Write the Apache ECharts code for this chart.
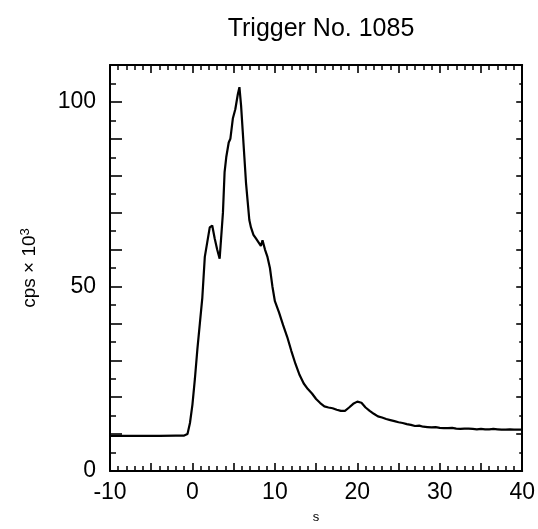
<!DOCTYPE html>
<html>
<head>
<meta charset="utf-8">
<script src="https://cdn.jsdelivr.net/npm/echarts@6/dist/echarts.min.js"></script>
<style>html,body{margin:0;padding:0;background:#fff;}#c{width:538px;height:529px;}</style>
</head>
<body>
<div id="c"></div>
<script>
const titleText = 'Trigger No. 1085';
const xName = 's';
const yName = 'cps × 10';
const yLabels = [0, 50, 100];
const xLabels = [-10, 0, 10, 20, 30, 40];
const times = [-10,-8,-6,-4,-2,-1,-0.6,-0.3,0,0.3,0.6,0.9,1.2,1.5,1.8,2.1,2.4,2.7,3.0,3.3,3.5,3.7,3.9,4.1,4.4,4.6,4.9,5.2,5.5,5.7,5.9,6.1,6.3,6.5,6.7,6.9,7.1,7.4,7.7,8.0,8.3,8.5,8.8,9.1,9.4,9.7,10.0,10.5,11,11.5,12,12.5,13,13.5,14,14.5,15,15.5,16,16.5,17,17.5,18,18.5,19,19.5,20,20.5,21,21.5,22,22.5,23,23.5,24,24.5,25,25.5,26,26.5,27,27.5,28,28.5,29,29.5,30,30.5,31,31.5,32,32.5,33,33.5,34,34.5,35,35.5,36,36.5,37,37.5,38,38.5,39,39.5,40];
const counts = [9.5,9.5,9.5,9.5,9.6,9.6,10,13,18,25,33,40,47,58,62,66,66.5,63,60,57.5,57,70,81,85,89,90,95.5,98,102,104,99,92,85,78,73,68,66,64,63,62,61,62.5,60,58,55,50,46,43,39.5,36.3,32.5,29,26,23.7,22.2,21,19.5,18.4,17.5,17.2,17,16.6,16.3,16.3,17.2,18.2,18.8,18.5,17.2,16.3,15.5,14.8,14.5,14.1,13.8,13.5,13.2,13.0,12.7,12.5,12.2,12.3,12.0,11.9,11.8,11.9,11.7,11.6,11.6,11.7,11.5,11.4,11.5,11.5,11.4,11.3,11.4,11.3,11.3,11.4,11.3,11.2,11.2,11.3,11.2,11.2,11.2];

const data = times.map((t, i) => [t, counts[i]]);
const font = 'Liberation Sans, Arial, sans-serif';
const axisLine = { show: true, onZero: false, lineStyle: { color: '#000', width: 2 } };

function xAxisDef(pos, labels) {
  return {
    type: 'value', position: pos, min: -10, max: 40, interval: 5,
    axisLine: axisLine,
    axisTick: { show: true, inside: true, length: 8, lineStyle: { color: '#000', width: 1.6 } },
    minorTick: { show: true, splitNumber: 5, length: 5, lineStyle: { color: '#000', width: 1.5 } },
    splitLine: { show: false }, minorSplitLine: { show: false },
    axisLabel: labels ? {
      show: true, color: '#000', fontFamily: font, fontSize: 23, margin: 10,
      formatter: v => xLabels.includes(v) ? String(v) : ''
    } : { show: false },
    name: labels ? xName : '', nameLocation: 'middle', nameGap: 40,
    nameTextStyle: { color: '#000', fontFamily: font, fontSize: 13 }
  };
}
function yAxisDef(pos, labels) {
  return {
    type: 'value', position: pos, min: 0, max: 110, interval: 10,
    axisLine: axisLine,
    axisTick: { show: true, inside: true, length: labels ? 12 : 6, lineStyle: { color: '#000', width: 1.6 } },
    minorTick: { show: true, splitNumber: 2, length: labels ? 6 : 3, lineStyle: { color: '#000', width: 1.5 } },
    splitLine: { show: false }, minorSplitLine: { show: false },
    axisLabel: labels ? {
      show: true, color: '#000', fontFamily: font, fontSize: 23, margin: 14,
      formatter: v => yLabels.includes(v) ? String(v) : ''
    } : { show: false },
    name: labels ? '{a|' + yName + '}{s|3}' : '', nameLocation: 'middle', nameGap: 70, nameRotate: 90,
    nameTextStyle: { color: '#000', fontFamily: font, fontSize: 19,
      rich: { a: { fontFamily: font, fontSize: 19, color: '#000' }, s: { fontFamily: font, fontSize: 13, color: '#000', verticalAlign: 'top', padding: [0,0,8,0] } } }
  };
}

const chart = echarts.init(document.getElementById('c'), null, { renderer: 'canvas' });
chart.setOption({
  animation: false,
  backgroundColor: '#fff',
  title: { text: titleText, left: 316, top: 12, textAlign: 'center',
    textStyle: { color: '#000', fontFamily: font, fontSize: 25, fontWeight: 'normal' } },
  grid: { left: 110, right: 13, top: 65, bottom: 54 },
  xAxis: [xAxisDef('bottom', true), xAxisDef('top', false)],
  yAxis: [yAxisDef('left', true), yAxisDef('right', false)],
  series: [{
    type: 'line', data: data, showSymbol: false, smooth: false,
    lineStyle: { color: '#000', width: 2.2 }
  }]
});
</script>
</body>
</html>
